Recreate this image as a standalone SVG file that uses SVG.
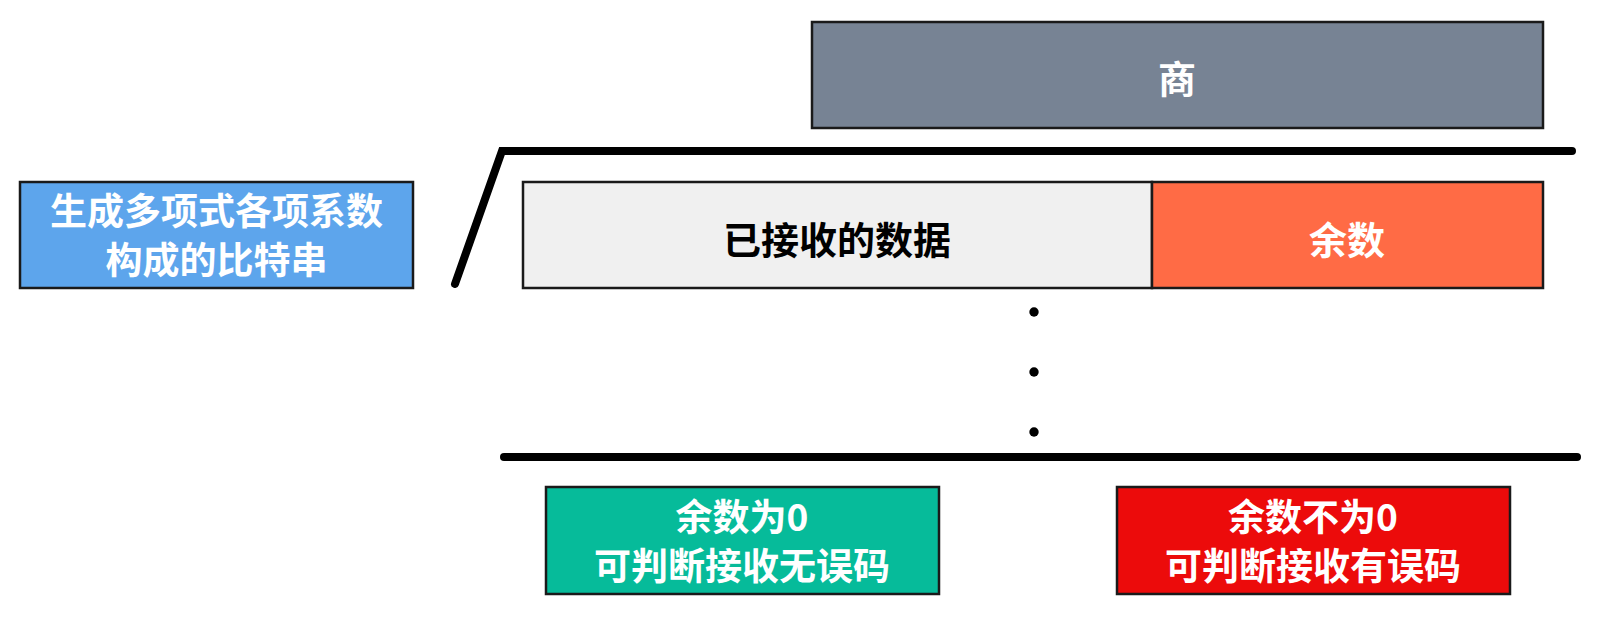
<svg xmlns="http://www.w3.org/2000/svg" width="1612" height="627" viewBox="0 0 1612 627">
<style>
.box{stroke:#1a1a1a;stroke-width:2.5}
.t{font-family:"Noto Sans CJK SC","Noto Sans",sans-serif;font-weight:700;font-size:38px;text-anchor:middle;dominant-baseline:central}
.t2{font-size:37px}
.w{fill:#ffffff}
.k{fill:#000000}
.ln{fill:none;stroke:#000;stroke-width:8;stroke-linecap:round;stroke-linejoin:miter}
</style>
<rect width="1612" height="627" fill="#ffffff"/>
<g id="quotient">
<rect class="box" x="812" y="22" width="731" height="106" fill="#778394"/>
<text class="t w" x="1177" y="76" font-size="35">商</text>
</g>
<g id="generator">
<rect class="box" x="20" y="182" width="393" height="106" fill="#5DA5EC"/>
<text class="t t2 w" x="216.5" y="209">生成多项式各项系数</text>
<text class="t t2 w" x="216.5" y="258">构成的比特串</text>
</g>
<g id="data">
<rect class="box" x="523" y="182" width="629" height="106" fill="#F0F0F0"/>
<text class="t k" x="837" y="237">已接收的数据</text>
</g>
<g id="remainder">
<rect class="box" x="1152" y="182" width="391" height="106" fill="#FF6B45"/>
<text class="t w" x="1347" y="237">余数</text>
</g>
<g id="zero">
<rect class="box" x="546" y="487" width="393" height="107" fill="#06BB9A"/>
<text class="t t2 w" x="742" y="515">余数为0</text>
<text class="t t2 w" x="742" y="564">可判断接收无误码</text>
</g>
<g id="nonzero">
<rect class="box" x="1117" y="487" width="393" height="107" fill="#EC0B0B"/>
<text class="t t2 w" x="1313" y="515">余数不为0</text>
<text class="t t2 w" x="1313" y="564">可判断接收有误码</text>
</g>
<g id="connectors">
<polyline class="ln" points="455,284 502,151 1572,151"/>
<line class="ln" x1="504" y1="457" x2="1577" y2="457"/>
<circle cx="1034" cy="312" r="4.7" fill="#000"/>
<circle cx="1034" cy="372" r="4.7" fill="#000"/>
<circle cx="1034" cy="432" r="4.7" fill="#000"/>
</g>
</svg>
